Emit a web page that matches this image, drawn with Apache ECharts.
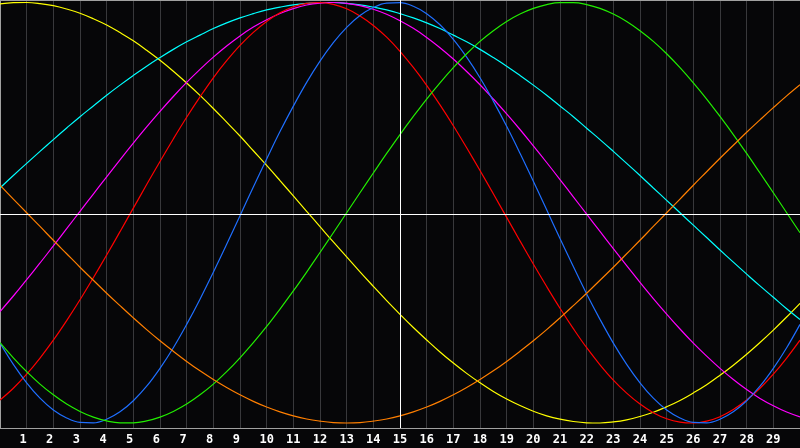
<!DOCTYPE html>
<html>
<head>
<meta charset="utf-8">
<script src="https://cdn.jsdelivr.net/npm/echarts@6/dist/echarts.min.js"></script>
<style>
  html, body { margin:0; padding:0; background:#060608; }
  #main { width:800px; height:448px; }
</style>
</head>
<body>
<div id="main"></div>
<script>
// dias (cada medio dia), valores en % (-100..100)
var days = [0,0.5,1,1.5,2,2.5,3,3.5,4,4.5,5,5.5,6,6.5,7,7.5,8,8.5,9,9.5,10,10.5,11,11.5,12,12.5,13,13.5,14,14.5,
        15,15.5,16,16.5,17,17.5,18,18.5,19,19.5,20,20.5,21,21.5,22,22.5,23,23.5,24,24.5,25,25.5,26,26.5,27,27.5,
        28,28.5,29,29.5,30];
var tick_labels = ['1','2','3','4','5','6','7','8','9','10','11','12','13','14','15',
        '16','17','18','19','20','21','22','23','24','25','26','27','28','29'];
var today = 15;

var amarillo = [99.3,99.9,100.0,99.5,98.5,96.9,94.9,92.3,89.3,85.7,81.8,77.3,72.5,67.3,61.7,55.8,49.6,43.1,
        36.5,29.5,22.5,15.3,8.0,0.7,-6.6,-13.9,-21.0,-28.1,-35.0,-41.8,-48.3,-54.6,-60.5,-66.2,-71.5,-76.4,
        -80.9,-85.0,-88.6,-91.7,-94.4,-96.6,-98.2,-99.3,-99.9,-100.0,-99.5,-98.5,-96.9,-94.9,-92.3,-89.3,
        -85.7,-81.8,-77.3,-72.5,-67.3,-61.7,-55.8,-49.6,-43.1];
var cian = [11.8,17.7,23.5,29.2,34.8,40.3,45.7,50.8,55.9,60.7,65.3,69.7,73.8,77.7,81.3,84.5,87.6,90.3,
        92.7,94.7,96.5,97.8,98.9,99.6,100.0,100.0,99.6,98.9,97.8,96.5,94.7,92.7,90.3,87.6,84.5,81.3,
        77.7,73.8,69.7,65.3,60.7,55.9,50.8,45.7,40.2,34.8,29.2,23.5,17.7,11.8,5.9,0,-5.9,-11.8,
        -17.7,-23.5,-29.2,-34.8,-40.2,-45.7,-50.8];
var magenta = [-47.0,-39.6,-31.8,-23.9,-15.8,-7.6,0.7,8.9,17.1,25.2,33.1,40.8,48.2,55.3,62.0,68.2,74.0,79.3,
        84.1,88.3,91.8,94.8,97.1,98.8,99.7,100.0,99.6,98.5,96.8,94.4,91.3,87.7,83.4,78.5,73.1,67.2,
        60.9,54.1,47.0,39.6,31.8,23.9,15.8,7.6,-0.7,-8.9,-17.1,-25.2,-33.1,-40.8,-48.2,-55.3,-62.0,-68.2,
        -74.0,-79.3,-84.1,-88.3,-91.8,-94.8,-97.1];
var rojo = [-89.1,-83.5,-76.8,-69.1,-60.6,-51.3,-41.4,-30.9,-20.1,-9.0,2.2,13.4,24.4,35.1,45.4,55.1,64.2,72.3,
        79.6,85.8,91.0,95.1,98.0,99.6,100.0,99.1,97.0,93.6,89.1,83.5,76.8,69.1,60.6,51.3,41.4,30.9,
        20.1,9.0,-2.2,-13.4,-24.4,-35.1,-45.4,-55.1,-64.2,-72.3,-79.6,-85.8,-91.0,-95.1,-98.0,-99.6,
        -100.0,-99.1,-97.0,-93.6,-89.1,-83.5,-76.8,-69.1,-60.6];
var azul = [-62.0,-72.1,-80.9,-88.2,-93.8,-97.6,-99.7,-99.9,-98.2,-94.7,-89.4,-82.5,-74.0,-64.2,-53.1,-41.1,
        -28.3,-15.0,-1.4,12.3,25.6,38.6,50.7,62.0,72.1,80.9,88.2,93.8,97.6,99.7,99.9,98.2,94.7,89.4,
        82.5,74.0,64.2,53.1,41.1,28.3,15.0,1.4,-12.3,-25.6,-38.6,-50.7,-62.0,-72.1,-80.9,-88.2,-93.8,
        -97.6,-99.7,-99.9,-98.2,-94.7,-89.4,-82.5,-74.0,-64.2,-53.1];
var verde = [-61.8,-69.0,-75.6,-81.5,-86.6,-91.0,-94.5,-97.2,-99.0,-99.9,-99.9,-99.0,-97.2,-94.5,-91.0,-86.6,
        -81.5,-75.6,-69.0,-61.8,-54.1,-45.8,-37.2,-28.2,-18.9,-9.5,0,9.5,18.9,28.2,37.2,45.8,54.1,61.8,
        69.0,75.6,81.5,86.6,91.0,94.5,97.2,99.0,99.9,99.9,99.0,97.2,94.5,91.0,86.6,81.5,75.6,69.0,
        61.8,54.1,45.8,37.2,28.2,18.9,9.5,0,-9.5];
var naranja = [13.1,6.5,0,-6.5,-13.1,-19.5,-25.9,-32.1,-38.3,-44.2,-50.0,-55.6,-60.9,-65.9,-70.7,-75.2,
        -79.3,-83.1,-86.6,-89.7,-92.4,-94.7,-96.6,-98.1,-99.1,-99.8,-100,-99.8,-99.1,-98.1,-96.6,-94.7,
        -92.4,-89.7,-86.6,-83.1,-79.3,-75.2,-70.7,-65.9,-60.9,-55.6,-50.0,-44.2,-38.3,-32.1,-25.9,-19.5,
        -13.1,-6.5,0,6.5,13.1,19.5,25.9,32.1,38.3,44.2,50.0,55.6,60.9];

var curvas = [
    {name:'amarillo', data: amarillo, color:'#ffff00'},
    {name:'cian', data: cian, color:'#00ffff'},
    {name:'magenta', data: magenta, color:'#ff00ff'},
    {name:'rojo', data: rojo, color:'#ff0000'},
    {name:'azul', data: azul, color:'#1f6fff'},
    {name:'verde', data: verde, color:'#22ee00'},
    {name:'naranja', data: naranja, color:'#ff7f00'},
];

function pares(vals){
    var out = [];
    vals.forEach(function(v, i){
        out.push([days[i], v]);
    });
    return out;
}

var series = [];
curvas.forEach(function(c){
    series.push({
        name: c.name,
        type: 'line',
        smooth: 0.4,
        showSymbol: false,
        lineStyle: {color: c.color, width: 1.2},
        data: pares(c.data),
        z: 3
    });
});
// lineas blancas: eje cero y dia actual
series.push({
    type: 'line',
    data: [],
    markLine: {
        silent: true,
        symbol: 'none',
        label: {show: false},
        lineStyle: {color: '#ffffff', width: 1, type: 'solid'},
        data: [{yAxis: -0.6}, {xAxis: today}]
    },
    z: 2
});

var chartDom = document.getElementById('main');
var myChart = echarts.init(chartDom);
var option = {
    animation: false,
    backgroundColor: '#060608',
    grid: {left: 0, right: 0, top: 0, bottom: 20},
    xAxis: [{
        type: 'value',
        min: 0,
        max: 30,
        interval: 1,
        axisLine: {show: true, onZero: false, lineStyle: {color: '#a0a0a0', width: 1}},
        axisTick: {show: false},
        splitLine: {show: true, lineStyle: {color: '#38383b', width: 1}},
        axisLabel: {
            margin: 6,
            color: '#ffffff',
            fontFamily: 'DejaVu Sans Mono',
            fontWeight: 'bold',
            fontSize: 12,
            showMinLabel: false,
            showMaxLabel: false,
            formatter: function(v){
                var t = tick_labels[v - 1];
                if (t === undefined) return '';
                return t.length < 2 ? t + ' ' : t;
            }
        }
    }, {
        // borde superior
        type: 'value',
        position: 'top',
        min: 0,
        max: 30,
        axisLine: {show: true, onZero: false, lineStyle: {color: '#a0a0a0', width: 1}},
        axisTick: {show: false},
        axisLabel: {show: false},
        splitLine: {show: false}
    }],
    yAxis: {
        type: 'value',
        min: -102.38,
        max: 101.19,
        axisLine: {show: true, onZero: false, lineStyle: {color: '#a0a0a0', width: 1}},
        axisTick: {show: false},
        axisLabel: {show: false},
        splitLine: {show: false}
    },
    series: series
};

option && myChart.setOption(option);
</script>
</body>
</html>
